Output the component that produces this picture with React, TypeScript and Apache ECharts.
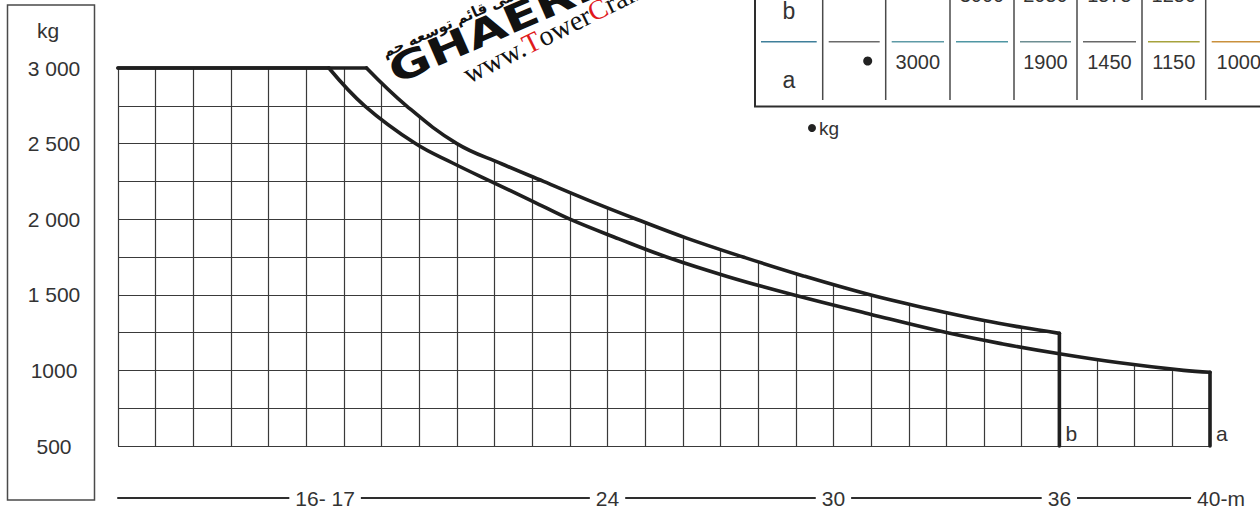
import React, { useEffect, useRef } from "react";
import * as echarts from "echarts";

// Load curves: radius (m) and load (kg)
const curveA_m = [11, 16.6, 17.55, 18.9, 19.9, 20.9, 22, 23, 24.3, 25.57, 27.2, 28.93, 31, 33, 34.5, 36, 37.6, 39.3, 40, 40];
const curveA_kg = [3000, 3000, 2750, 2500, 2370, 2250, 2120, 2000, 1870, 1750, 1620, 1500, 1370, 1250, 1175, 1110, 1050, 1000, 988, 500];
const curveB_m = [11, 17.6, 18.66, 20, 21.2, 22.3, 23.5, 24.77, 26.1, 27.6, 29.2, 30.97, 32.5, 34, 35, 36, 36];
const curveB_kg = [3000, 3000, 2750, 2500, 2365, 2250, 2125, 2000, 1875, 1750, 1625, 1500, 1410, 1330, 1285, 1245, 500];

const yTickValues = [500, 1000, 1500, 2000, 2500, 3000];
const yTickLabels = ["500", "1000", "1 500", "2 000", "2 500", "3 000"];
const xTickValues = [16.5, 24, 30, 36, 40];
const xTickLabels = ["16- 17", "24", "30", "36", "40-m"];

const tableRowLabels = ["b", "a"];
const tableRowB = ["", "", "3000", "2050", "1575", "1250", ""];
const tableRowA = ["•", "3000", "", "1900", "1450", "1150", "1000"];

const FONT = '"Liberation Sans", Arial, sans-serif';
const INK = "#333";

export default function App() {
  const ref = useRef<HTMLDivElement>(null);

  useEffect(() => {
    const chart = echarts.init(ref.current!, undefined, { renderer: "svg" });
    const dataA = curveA_m.map((m, i) => [m, curveA_kg[i]]);
    const dataB = curveB_m.map((m, i) => [m, curveB_kg[i]]);
    const bEnd = curveB_m[curveB_m.length - 1];
    const envelope = [
      ...dataB.slice(0, -1),
      ...dataA.slice(0, -1).filter((p) => p[0] >= bEnd),
    ];

    // table geometry
    const colEdges = [755, 822.7, 885.7, 950, 1014, 1077, 1142, 1205.7, 1272];
    const sepColors = ["#3f7f9a", "#6a6a6a", "#5e9aa6", "#4f96a3", "#6d8e92", "#686868", "#a6a23c", "#c9903c"];
    const graphics: any[] = [];

    // left label box
    graphics.push({
      type: "rect",
      shape: { x: 7.5, y: 5, width: 87, height: 495 },
      style: { fill: "none", stroke: "#4a4a4a", lineWidth: 1.5 },
    });
    graphics.push({
      type: "text", x: 48, y: 30,
      style: { text: "kg", fontSize: 21, fontFamily: FONT, fill: INK, align: "center", verticalAlign: "middle" },
    });

    // table borders
    graphics.push({ type: "line", shape: { x1: 755, y1: -2, x2: 755, y2: 106.5 }, style: { stroke: "#2e2e2e", lineWidth: 2 } });
    graphics.push({ type: "line", shape: { x1: 754, y1: 106.5, x2: 1262, y2: 106.5 }, style: { stroke: "#2e2e2e", lineWidth: 2 } });
    for (let i = 1; i < colEdges.length - 1; i++) {
      graphics.push({ type: "line", shape: { x1: colEdges[i], y1: -2, x2: colEdges[i], y2: 100 }, style: { stroke: "#4a4a4a", lineWidth: 1.5 } });
    }
    for (let i = 0; i < colEdges.length - 1; i++) {
      graphics.push({
        type: "line",
        shape: { x1: colEdges[i] + 6, y1: 41.7, x2: colEdges[i + 1] - 6, y2: 41.7 },
        style: { stroke: sepColors[i], lineWidth: 1.6 },
      });
    }
    const labelCx = (colEdges[0] + colEdges[1]) / 2;
    graphics.push({ type: "text", x: labelCx, y: 11, style: { text: tableRowLabels[0], fontSize: 23, fontFamily: FONT, fill: INK, align: "center", verticalAlign: "middle" } });
    graphics.push({ type: "text", x: labelCx, y: 80, style: { text: tableRowLabels[1], fontSize: 23, fontFamily: FONT, fill: INK, align: "center", verticalAlign: "middle" } });
    const addRow = (row: string[], y: number) => {
      row.forEach((v, j) => {
        if (!v) return;
        const l = colEdges[j + 1];
        const r = colEdges[j + 2];
        if (v === "•") {
          graphics.push({ type: "circle", shape: { cx: r - 18, cy: y - 1, r: 4.5 }, style: { fill: "#222" } });
        } else {
          graphics.push({
            type: "text", x: (l + r) / 2, y,
            style: { text: v, fontSize: 20, fontFamily: FONT, fill: INK, align: "center", verticalAlign: "middle" },
          });
        }
      });
    };
    addRow(tableRowB, -5);
    addRow(tableRowA, 62);

    // "• kg" note
    graphics.push({ type: "circle", shape: { cx: 812, cy: 128, r: 4 }, style: { fill: "#222" } });
    graphics.push({ type: "text", x: 819, y: 128, style: { text: "kg", fontSize: 19, fontFamily: FONT, fill: INK, align: "left", verticalAlign: "middle" } });

    // watermark
    graphics.push({
      type: "text", x: 386, y: 60, rotation: 0.42,
      style: { text: "شرکت مهندسی قائم توسعه جم", font: 'bold 15px "DejaVu Sans"', fill: "#111", align: "left", verticalAlign: "bottom" },
    });
    graphics.push({
      type: "text", x: 398, y: 90, rotation: 0.41, scaleX: 1.35,
      style: { text: "GHAERI", font: 'bold 38px "DejaVu Sans"', fill: "#111", align: "left", verticalAlign: "bottom" },
    });
    graphics.push({
      type: "text", x: 471, y: 88, rotation: 0.46,
      style: {
        text: "{w|www.}{r|T}{w|ower}{r|C}{w|rane.ir}",
        align: "left", verticalAlign: "bottom",
        rich: {
          w: { font: '28px "Liberation Serif"', fill: "#111" },
          r: { font: '28px "Liberation Serif"', fill: "#e0191b" },
        },
      },
    });
    graphics.forEach((g) => { g.z = 100; });

    const lineStyle = { color: "#1f1f1f", width: 3.6, cap: "round", join: "round" };
    const endLabelBase = { show: true, fontSize: 21, fontFamily: FONT, color: INK, distance: 6, offset: [0, -13] };

    const makeSeries = (data: number[][], name: string) => {
      const n = data.length;
      return [
        { type: "line", name: name + "-flat", data: data.slice(0, 2), symbol: "none", z: 3, clip: false, lineStyle },
        { type: "line", name: name + "-curve", data: data.slice(1, n - 1), symbol: "none", z: 3, clip: false, smooth: 0.4, lineStyle },
        { type: "line", name: name + "-drop", data: data.slice(n - 2), symbol: "none", z: 3, clip: false, lineStyle, endLabel: { ...endLabelBase, formatter: name } },
      ];
    };

    chart.setOption({
      animation: false,
      backgroundColor: "#fff",
      grid: { left: 118, right: 50, top: 68, bottom: 64, outerBoundsMode: "none", containLabel: false },
      xAxis: [
        {
          type: "value", min: 11, max: 40, interval: 1,
          axisLine: { show: false }, axisTick: { show: false }, axisLabel: { show: false },
          splitLine: { show: true, lineStyle: { color: "#3a3a3a", width: 1.2 } },
        },
        {
          type: "value", min: 11, max: 40, position: "bottom", offset: 52,
          axisLine: { show: true, lineStyle: { color: "#2e2e2e", width: 2 } },
          axisTick: { show: false }, splitLine: { show: false },
          axisLabel: {
            show: true, customValues: xTickValues, margin: 0, verticalAlign: "middle",
            formatter: (v: number) => {
              const i = xTickValues.indexOf(v);
              if (i < 0) return "";
              return i === xTickValues.length - 1 ? `{sp|}{t|${xTickLabels[i]}}` : `{t|${xTickLabels[i]}}`;
            },
            rich: {
              t: { backgroundColor: "#fff", padding: [2, 6], fontSize: 21, fontFamily: FONT, color: INK },
              sp: { width: 22 },
            },
          },
        },
      ],
      yAxis: {
        type: "value", min: 500, max: 3000, interval: 250,
        axisLine: { show: false }, axisTick: { show: false },
        splitLine: { show: true, lineStyle: { color: "#3a3a3a", width: 1.2 } },
        axisLabel: {
          show: true, margin: 64, align: "center", fontSize: 21, fontFamily: FONT, color: INK,
          padding: [8, 0, 0, 0],
          formatter: (v: number) => {
            const i = yTickValues.indexOf(v);
            return i < 0 ? "" : yTickLabels[i];
          },
        },
      },
      graphic: graphics,
      series: [
        {
          type: "custom", z: 1, silent: true, data: [[11, 3000]],
          renderItem: (_params: any, api: any) => {
            const pts = envelope.map((p) => api.coord(p));
            const last = pts[pts.length - 1];
            const tr = api.coord([40, 3000]);
            const tl = api.coord([11, 3000]);
            pts.push([last[0] + 4, last[1]]);
            pts.push([tr[0] + 4, tr[1] - 5]);
            pts.push([tl[0], tl[1] - 5]);
            return { type: "polygon", shape: { points: pts }, style: { fill: "#fff", stroke: "none" } };
          },
        },
        ...makeSeries(dataB, tableRowLabels[0]),
        ...makeSeries(dataA, tableRowLabels[1]),
      ],
    });
    return () => chart.dispose();
  }, []);

  return (
    <div
      ref={ref}
      style={{ position: "fixed", left: 0, top: 0, width: 1260, height: 510, background: "#fff" }}
    />
  );
}
